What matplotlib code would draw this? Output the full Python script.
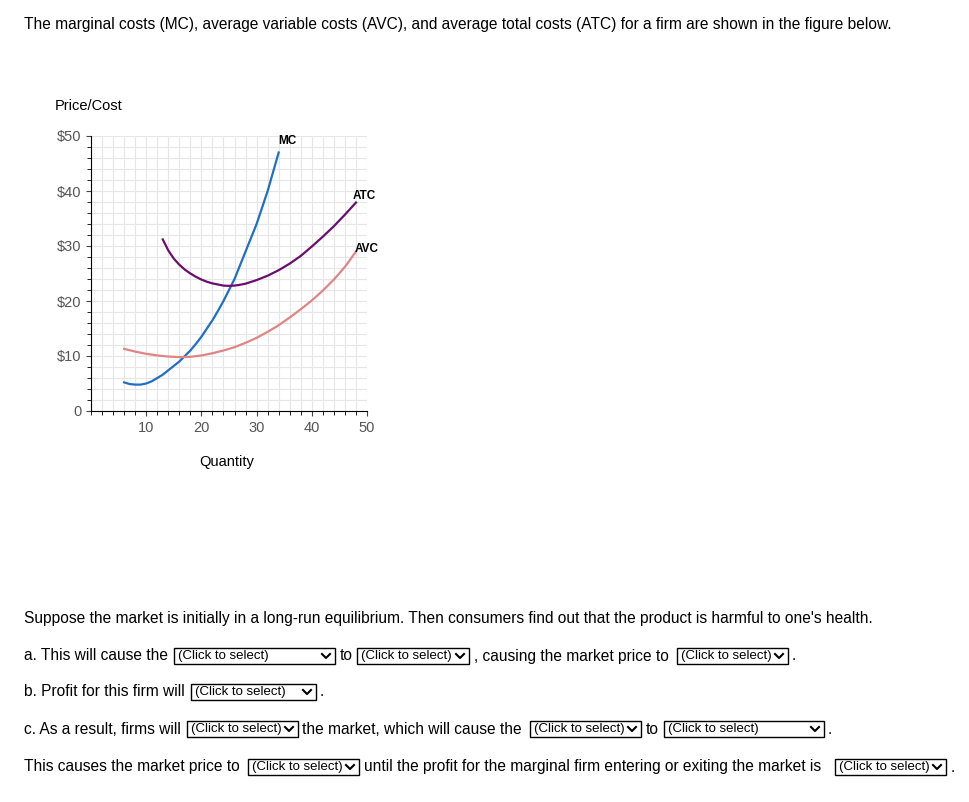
import matplotlib.pyplot as plt
from matplotlib.patches import Rectangle
from matplotlib.lines import Line2D

plt.rcParams['font.family'] = ['Liberation Sans', 'DejaVu Sans']

# Curve points
mc_q = [6, 7, 8, 9, 10, 11, 12, 13, 14, 15, 16, 17, 18, 19, 20, 21, 22, 23, 24, 25,
        26, 27, 28, 29, 30, 31, 32, 33, 34]
mc_c = [5.2, 4.9, 4.8, 4.8, 5.0, 5.4, 6.0, 6.6, 7.4, 8.2, 9.0, 10.0, 11.0, 12.2, 13.5,
        15.0, 16.5, 18.2, 20.0, 22.0, 24.0, 26.5, 29.0, 31.5, 34.0, 37.0, 40.0, 43.5, 47.0]
atc_q = [13, 14, 15, 16, 17, 18, 19, 20, 21, 22, 23, 24, 25, 26, 27, 28, 30, 32, 34,
         36, 38, 40, 42, 44, 46, 48]
atc_c = [31.2, 29.2, 27.7, 26.6, 25.7, 25.0, 24.4, 23.9, 23.5, 23.2, 23.0, 22.8, 22.75,
         22.8, 22.95, 23.15, 23.8, 24.6, 25.6, 26.8, 28.2, 29.9, 31.7, 33.6, 35.7, 37.9]
avc_q = [6, 8, 10, 12, 14, 16, 18, 20, 22, 24, 26, 28, 30, 32, 34, 36, 38, 40, 42,
         44, 46, 48]
avc_c = [11.3, 10.8, 10.4, 10.1, 9.9, 9.8, 9.85, 10.1, 10.5, 11.0, 11.6, 12.4, 13.3,
         14.4, 15.6, 17.0, 18.5, 20.1, 21.9, 23.9, 26.2, 29.0]
x_ticks = [10, 20, 30, 40, 50]
y_ticks = [0, 10, 20, 30, 40, 50]
y_labels = ['0', '$10', '$20', '$30', '$40', '$50']

W, H = 970, 802
fig = plt.figure(figsize=(W / 100, H / 100), dpi=100)

def fx(px):
    return px / W

def fy(py):
    return 1 - py / H

ax = fig.add_axes([fx(91), fy(411), fx(367) - fx(91), fy(136) - fy(411)])
ax.plot(mc_q, mc_c, color='#1f6fc6', lw=1.6)
ax.plot(atc_q, atc_c, color='#6a0f6e', lw=1.6)
ax.plot(avc_q, avc_c, color='#e08585', lw=1.6)
ax.set_xlim(0, 50)
ax.set_ylim(0, 50)
ax.set_xticks(x_ticks)
ax.set_xticks(range(0, 51, 2), minor=True)
ax.set_yticks(y_ticks)
ax.set_yticklabels(y_labels)
ax.set_yticks(range(0, 51, 2), minor=True)
ax.grid(which='both', color='#e6e6e6', lw=0.8)
ax.set_axisbelow(True)
for s in ['top', 'right']:
    ax.spines[s].set_visible(False)
ax.tick_params(labelsize=10.5, colors='#444444', labelcolor='#555555')
ax.tick_params(which='minor', length=3)
ax.text(35.5, 48.5, 'MC', fontsize=8.5, fontweight='bold', ha='center')
ax.text(49.5, 38.5, 'ATC', fontsize=8.5, fontweight='bold', ha='center')
ax.text(50, 29, 'AVC', fontsize=8.5, fontweight='bold', ha='center')

fig.text(fx(55), fy(106), 'Price/Cost', fontsize=10.5, va='center')
fig.text(fx(227), fy(462), 'Quantity', fontsize=10.5, va='center', ha='center')
fig.text(fx(24), fy(25), 'The marginal costs (MC), average variable costs (AVC), and average total costs (ATC) for a firm are shown in the figure below.',
         fontsize=11.2, va='center')
fig.text(fx(24), fy(618), "Suppose the market is initially in a long-run equilibrium. Then consumers find out that the product is harmful to one's health.",
         fontsize=11.2, va='center')

def word(px, py, s):
    fig.text(fx(px), fy(py), s, fontsize=11.2, va='center')

def box(x0, x1, py):
    fig.add_artist(Rectangle((fx(x0), fy(py + 8)), fx(x1) - fx(x0), fy(py - 8) - fy(py + 8),
                             transform=fig.transFigure, fc='white', ec='black', lw=1))
    fig.text(fx(x0 + 4), fy(py), '(Click to select)', fontsize=9.5, va='center')
    cx = x1 - 9
    fig.add_artist(Line2D([fx(cx - 4), fx(cx), fx(cx + 4)], [fy(py - 2), fy(py + 2), fy(py - 2)],
                          transform=fig.transFigure, color='black', lw=1.5))

y = 656
word(24, y, 'a. This will cause the'); box(174, 335, y); word(340, y, 'to'); box(357, 469, y)
word(474, y, ', causing the market price to'); box(677, 788, y); word(792, y, '.')
y = 692
word(24, y, 'b. Profit for this firm will'); box(191, 316, y); word(320, y, '.')
y = 729
word(24, y, 'c. As a result, firms will'); box(187, 298, y); word(302, y, 'the market, which will cause the')
box(530, 641, y); word(646, y, 'to'); box(664, 824, y); word(828, y, '.')
y = 767
word(24, y, 'This causes the market price to'); box(248, 359, y)
word(364, y, 'until the profit for the marginal firm entering or exiting the market is'); box(835, 946, y); word(951, y, '.')

fig.savefig('out.png', dpi=100)
